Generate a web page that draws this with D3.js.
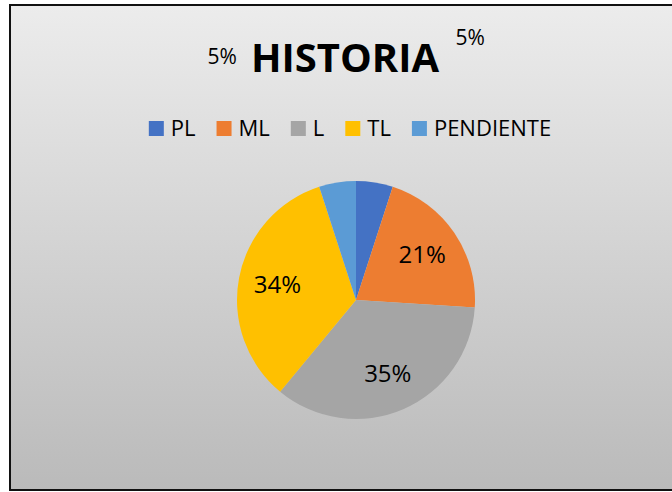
<!DOCTYPE html>
<meta charset="utf-8">
<style>
body { margin: 0; background: #fff; }
svg text { font-family: "Open Sans", "Noto Sans", sans-serif; fill: #000; }
</style>
<body>
<script src="https://cdn.jsdelivr.net/npm/d3@7"></script>
<script>

// chart data
var title = "HISTORIA";
var categories = ["PL", "ML", "L", "TL", "PENDIENTE"];
var values = [5, 21, 35, 34, 5];
var colors = ["#4472C4", "#ED7D31", "#A5A5A5", "#FFC000", "#5B9BD5"];

var width = 672, height = 492;

var svg = d3.select("body").append("svg")
    .attr("width", width)
    .attr("height", height);

// background gradient like the excel chart area
var grad = svg.append("defs").append("linearGradient")
    .attr("id", "bg")
    .attr("x1", 0).attr("y1", 0).attr("x2", 0).attr("y2", 1);
grad.append("stop").attr("offset", "0%").attr("stop-color", "#ececec");
grad.append("stop").attr("offset", "100%").attr("stop-color", "#bababa");

svg.append("rect")
    .attr("x", 10)
    .attr("y", 5)
    .attr("width", 700)
    .attr("height", 485)
    .attr("fill", "url(#bg)")
    .attr("stroke", "#111")
    .attr("stroke-width", 2);

var color = d3.scaleOrdinal()
    .domain(categories)
    .range(colors);

// title
var titleText = svg.append("text")
    .attr("x", 345)
    .attr("y", 72)
    .attr("text-anchor", "middle")
    .style("font-weight", "bold")
    .style("font-size", "40px")
    .text(title);

// legend
var legend = svg.append("g");
var lx = 0;
categories.forEach(function(c, i) {
  var row = legend.append("g").attr("transform", "translate(" + lx + ",0)");
  row.append("rect")
      .attr("width", 15)
      .attr("height", 15)
      .attr("y", -15)
      .attr("fill", color(c));
  var t = row.append("text")
      .attr("x", 22)
      .attr("y", 0)
      .style("font-size", "22px")
      .text(c);
  lx += 22 + t.node().getComputedTextLength() + 21;
});
lx -= 21;
legend.attr("transform", "translate(" + (350 - lx / 2) + ",136)");

// pie
var cx = 356, cy = 300, radius = 119;

var pie = d3.pie().sort(null).value(function(d) { return d.value; });
var arc = d3.arc().innerRadius(0).outerRadius(radius);
var labelArc = d3.arc().innerRadius(80).outerRadius(80);

var data = categories.map(function(c, i) { return {name: c, value: values[i]}; });
var arcs = pie(data);

var g = svg.append("g").attr("transform", "translate(" + cx + "," + cy + ")");

g.selectAll("path")
    .data(arcs)
  .enter().append("path")
    .attr("d", arc)
    .attr("fill", function(d) { return color(d.data.name); });

// labels for big slices sit inside the pie
g.selectAll("text.inner")
    .data(arcs.filter(function(d) { return d.data.value > 10; }))
  .enter().append("text")
    .attr("class", "inner")
    .attr("transform", function(d) { return "translate(" + labelArc.centroid(d) + ")"; })
    .attr("text-anchor", "middle")
    .attr("dy", "0.35em")
    .style("font-size", "24px")
    .text(function(d) { return d.data.value + "%"; });

// the two small labels were dragged next to the title in the original
var small = arcs.filter(function(d) { return d.data.value <= 10; });
var tb = titleText.node().getBBox();
svg.append("text")
    .attr("x", tb.x - 14)
    .attr("y", 64)
    .attr("text-anchor", "end")
    .style("font-size", "21px")
    .text(small[1].data.value + "%");
svg.append("text")
    .attr("x", tb.x + tb.width + 16)
    .attr("y", 45)
    .attr("text-anchor", "start")
    .style("font-size", "21px")
    .text(small[0].data.value + "%");

</script>
</body>
